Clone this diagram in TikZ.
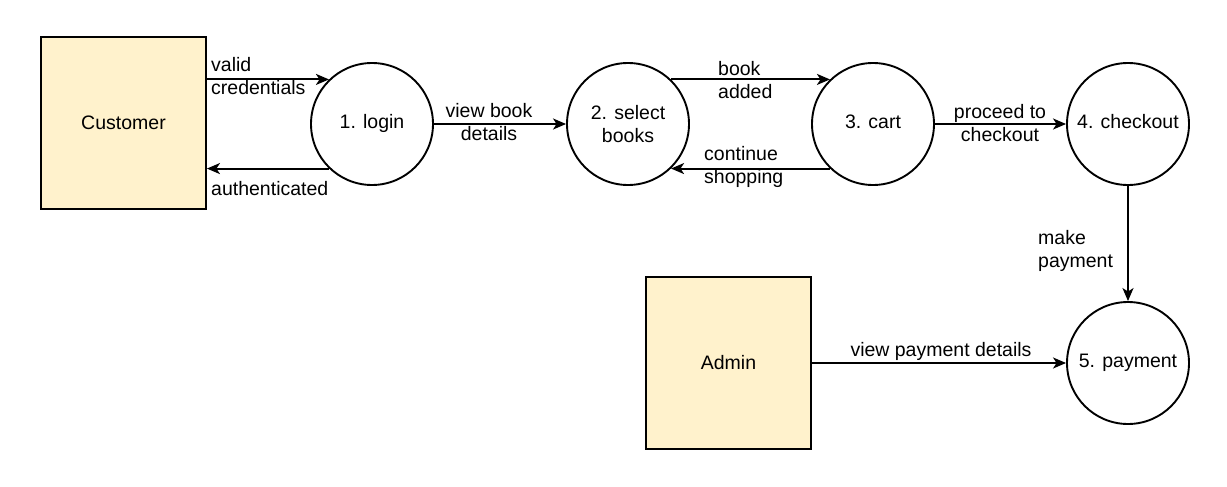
\documentclass[tikz,border=0pt]{standalone}
\usepackage{fontspec}
\setmainfont{Liberation Sans}
\usetikzlibrary{arrows.meta}
\definecolor{entfill}{HTML}{FFF2CC}
\begin{document}
\begin{tikzpicture}[x=1pt,y=-1pt,
  every node/.style={font=\fontsize{19.5}{23}\selectfont},
  proc/.style={draw, circle, line width=1.9pt, minimum size=122pt, inner sep=0pt, align=center},
  ent/.style={draw, rectangle, line width=1.9pt, fill=entfill, minimum width=165pt, minimum height=172pt},
  flow/.style={line width=1.9pt, -{Stealth[length=13pt,width=11pt,inset=3.5pt]}},
  lbl/.style={inner sep=0pt, align=left},
  clbl/.style={inner sep=0pt, align=center}]
\useasboundingbox (0,0) rectangle (1227,487);
\node[ent] (cust) at (123.5,123) {Customer};
\node[ent] (admin) at (728.5,363) {Admin};
\node[proc] (login) at (372,124) {\strut 1. login};
\node[proc] (sel) at (628,124) {2. select\\books};
\node[proc] (cart) at (873,124) {\strut 3. cart};
\node[proc] (chk) at (1128,124) {\strut 4. checkout};
\node[proc] (pay) at (1128,363) {\strut 5. payment};

\draw[flow] (cust.east |- login.134) -- (login.134);
\draw[flow] (login.226) -- (cust.east |- login.226);
\draw[flow] (login) -- (sel);
\draw[flow] (sel.46) -- (cart.134);
\draw[flow] (cart.226) -- (sel.314);
\draw[flow] (cart) -- (chk);
\draw[flow] (chk) -- (pay);
\draw[flow] (admin) -- (pay);

\node[lbl, anchor=west] (l1) at (211,76.5) {valid\\credentials};
\node[lbl, anchor=west] (l2) at (211,189) {authenticated};
\node[clbl] (l3) at (489,122) {view book\\details};
\node[lbl, anchor=west] (l4) at (718,80.5) {book\\added};
\node[lbl, anchor=west] (l5) at (704,167) {continue\\shopping};
\node[clbl] (l6) at (1000,123.5) {proceed to\\checkout};
\node[lbl, anchor=west] (l7) at (1038,250.5) {make\\payment};
\node[clbl] (l8) at (941,351) {view payment details};
\end{tikzpicture}
\end{document}
